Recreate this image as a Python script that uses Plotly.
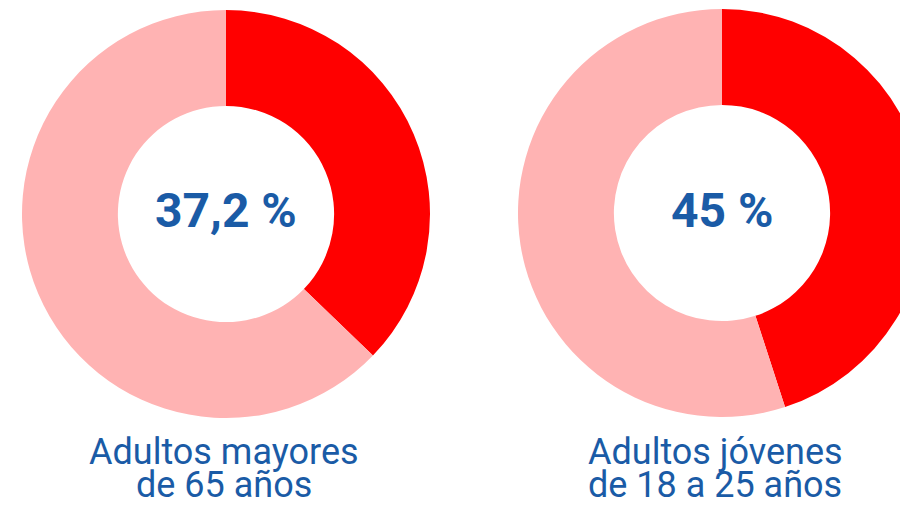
import plotly.graph_objects as go

# Data
groups = ["Adultos mayores de 65 años", "Adultos jóvenes de 18 a 25 años"]
share_values = [37.2, 45.0]
center_labels = ["37,2 %", "45 %"]
label_line1 = ["Adultos mayores", "Adultos jóvenes"]
label_line2 = ["de 65 años", "de 18 a 25 años"]

W, H = 930, 506
RED = "#ff0000"
PINK = "#ffb3b3"
BLUE = "#1a5ba6"

fig = go.Figure()

# donut geometry in pixels (centers, radius)
centers = [(226, 214), (722, 213)]
R = 204

for i, v in enumerate(share_values):
    cx, cy = centers[i]
    dom_x = [(cx - R) / W, (cx + R) / W]
    dom_y = [1 - (cy + R) / H, 1 - (cy - R) / H]
    fig.add_trace(go.Pie(
        values=[v, 100 - v],
        labels=["Sí", "No"],
        marker=dict(colors=[RED, PINK], line=dict(width=0)),
        hole=0.53,
        sort=False,
        direction="clockwise",
        rotation=0,
        textinfo="none",
        hoverinfo="skip",
        showlegend=False,
        domain=dict(x=dom_x, y=dom_y),
    ))
    fig.add_annotation(
        x=cx / W, y=1 - 210 / H, xref="paper", yref="paper",
        text=f"<b>{center_labels[i]}</b>", showarrow=False,
        font=dict(family="Roboto", size=48, color=BLUE),
        xanchor="center", yanchor="middle",
    )

label_x = [224, 715]
for i in range(2):
    fig.add_annotation(
        x=label_x[i] / W, y=1 - 452 / H, xref="paper", yref="paper",
        text=label_line1[i], showarrow=False,
        font=dict(family="Roboto", size=36, color=BLUE),
        xanchor="center", yanchor="middle",
    )
    fig.add_annotation(
        x=label_x[i] / W, y=1 - 485 / H, xref="paper", yref="paper",
        text=label_line2[i], showarrow=False,
        font=dict(family="Roboto", size=36, color=BLUE),
        xanchor="center", yanchor="middle",
    )

fig.update_layout(
    width=W, height=H,
    margin=dict(l=0, r=0, t=0, b=0),
    paper_bgcolor="white",
    plot_bgcolor="white",
)

fig.write_html(
    "out.html",
    config={"displayModeBar": False},
    post_script="document.documentElement.style.overflow='hidden';document.body.style.overflow='hidden';document.body.style.margin='0';",
)
